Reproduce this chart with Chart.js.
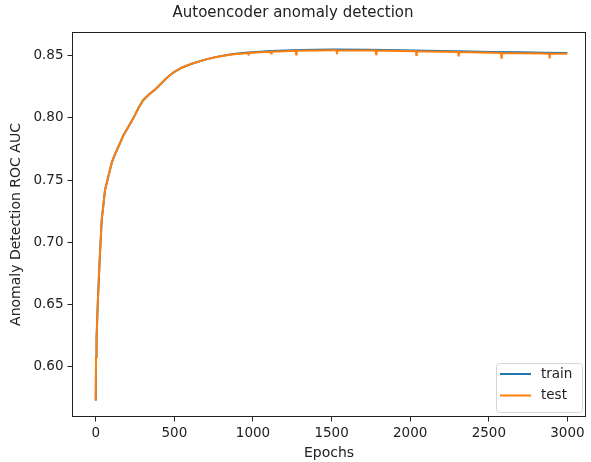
<!DOCTYPE html>
<html>
<head>
<meta charset="utf-8">
<title>Autoencoder anomaly detection</title>
<script src="https://cdn.jsdelivr.net/npm/chart.js@4.4.1/dist/chart.umd.min.js"></script>
<style>
  body { margin: 0; background: #fff; }
  canvas { display: block; }
</style>
</head>
<body>
<canvas id="aucChart" width="591" height="462"></canvas>
<script>
// ROC AUC per epoch, read at a handful of epochs
const trainEpochs = [0, 2, 5, 13, 20, 27, 38, 59, 80, 102, 120, 144, 176, 208, 240, 271, 300, 314, 345, 378, 410, 441, 473, 505, 550, 611, 696, 760, 834, 876, 950, 1046, 1088, 1200, 1300, 1400, 1512, 1725, 1937, 2100, 2300, 2511, 2700, 2850, 2999];
const trainAuc = [0.5728, 0.608, 0.622, 0.651, 0.672, 0.691, 0.718, 0.742, 0.7528, 0.764, 0.770, 0.7768, 0.786, 0.7929, 0.800, 0.8077, 0.8140, 0.8158, 0.8195, 0.8228, 0.8268, 0.8308, 0.8345, 0.8374, 0.8405, 0.8435, 0.8468, 0.8488, 0.8505, 0.8514, 0.8524, 0.8532, 0.8535, 0.8541, 0.8546, 0.8548, 0.8549, 0.8548, 0.8543, 0.8539, 0.8535, 0.853, 0.8527, 0.8524, 0.8522];

// test curve has single-epoch drops later in training
const testEpochs = [0, 2, 5, 13, 20, 27, 38, 59, 80, 102, 120, 144, 176, 208, 240, 271, 300, 314, 345, 378, 410, 441, 473, 505, 550, 611, 696, 760, 834, 876, 950, 968, 971, 974, 1046, 1088, 1113, 1116, 1119, 1200, 1272, 1275, 1278, 1400, 1512, 1531, 1534, 1537, 1725, 1780, 1783, 1786, 1937, 2036, 2039, 2042, 2100, 2300, 2305, 2308, 2311, 2511, 2577, 2580, 2583, 2700, 2850, 2884, 2887, 2890, 2999];
const testAuc = [0.5728, 0.608, 0.622, 0.651, 0.672, 0.691, 0.718, 0.742, 0.7528, 0.764, 0.770, 0.7768, 0.786, 0.7929, 0.800, 0.8077, 0.8140, 0.8158, 0.8195, 0.8228, 0.8268, 0.8308, 0.8345, 0.8374, 0.8405, 0.8435, 0.8468, 0.8487, 0.8503, 0.8511, 0.8520, 0.8521, 0.8510, 0.8521, 0.8527, 0.8530, 0.8531, 0.8517, 0.8531, 0.8535, 0.8539, 0.8510, 0.8539, 0.8542, 0.8543, 0.8543, 0.8513, 0.8543, 0.8542, 0.8541, 0.8511, 0.8541, 0.8537, 0.8535, 0.8505, 0.8535, 0.8533, 0.8529, 0.8529, 0.8495, 0.8529, 0.8524, 0.8522, 0.8484, 0.8522, 0.8520, 0.8517, 0.8516, 0.8478, 0.8516, 0.8515];

const xTicks = [0, 500, 1000, 1500, 2000, 2500, 3000];
const yTicks = [0.60, 0.65, 0.70, 0.75, 0.80, 0.85];

const FONT = "'DejaVu Sans', sans-serif";
const INK = '#222';

// axes box plus a framed legend in the lower right corner
const boxAndLegend = {
  id: 'boxAndLegend',
  afterDraw(chart) {
    const { ctx, chartArea: a } = chart;
    ctx.save();
    ctx.strokeStyle = INK;
    ctx.lineWidth = 1;
    ctx.strokeRect(a.left + 0.5, a.top + 0.5, a.right - a.left - 1, a.bottom - a.top - 1);

    const w = 86, h = 49;
    const x = a.right - 4 - w, y = a.bottom - 5 - h;
    ctx.beginPath();
    ctx.roundRect(x + 0.5, y + 0.5, w, h, 3);
    ctx.fillStyle = 'rgba(255,255,255,0.8)';
    ctx.fill();
    ctx.strokeStyle = '#d6d6d6';
    ctx.stroke();

    ctx.font = '13.5px ' + FONT;
    ctx.textBaseline = 'middle';
    chart.data.datasets.forEach((ds, i) => {
      const ry = y + 11 + i * 21.5;
      ctx.beginPath();
      ctx.moveTo(x + 4, ry);
      ctx.lineTo(x + 35, ry);
      ctx.strokeStyle = ds.borderColor;
      ctx.lineWidth = 2;
      ctx.stroke();
      ctx.fillStyle = INK;
      ctx.fillText(ds.label, x + 45, ry);
    });
    ctx.restore();
  }
};

const ctx = document.getElementById('aucChart').getContext('2d');
new Chart(ctx, {
  type: 'line',
  data: {
    datasets: [
      // order 1 so the test line is painted over it
      { label: 'train', order: 1, data: trainEpochs.map((e, i) => ({ x: e, y: trainAuc[i] })), borderColor: '#1f77b4', borderWidth: 2, pointRadius: 0, fill: false },
      { label: 'test', order: 0, data: testEpochs.map((e, i) => ({ x: e, y: testAuc[i] })), borderColor: '#ff7f0e', borderWidth: 2, pointRadius: 0, fill: false }
    ]
  },
  options: {
    responsive: false,
    animation: false,
    devicePixelRatio: 1,
    layout: { padding: { left: 0, right: 5, top: 0, bottom: 0 } },
    plugins: {
      legend: { display: false },
      tooltip: { enabled: false },
      title: {
        display: true,
        text: 'Autoencoder anomaly detection',
        color: INK,
        font: { family: FONT, size: 15, weight: 'normal' },
        padding: { top: 4, bottom: 10 }
      }
    },
    scales: {
      x: {
        type: 'linear',
        min: -151,
        max: 3118,
        afterBuildTicks: axis => { axis.ticks = xTicks.map(v => ({ value: v })); },
        afterFit: axis => { axis.height = 45; },
        grid: { drawOnChartArea: false, drawTicks: true, tickLength: 4.5, color: INK },
        border: { display: false },
        ticks: { color: INK, font: { family: FONT, size: 13.5 }, padding: 4, maxRotation: 0, autoSkip: false, callback: v => String(v) },
        title: { display: true, text: 'Epochs', color: INK, font: { family: FONT, size: 14 }, padding: { top: 0, bottom: 0.6 } }
      },
      y: {
        min: 0.5596,
        max: 0.8690,
        afterBuildTicks: axis => { axis.ticks = yTicks.map(v => ({ value: v })); },
        afterFit: axis => { axis.width = 72; },
        grid: { drawOnChartArea: false, drawTicks: true, tickLength: 4.5, color: INK },
        border: { display: false },
        ticks: { color: INK, font: { family: FONT, size: 13.5 }, padding: 4, callback: v => v.toFixed(2) },
        title: { display: true, text: 'Anomaly Detection ROC AUC', color: INK, font: { family: FONT, size: 14 }, padding: { top: 7.5, bottom: 0 } }
      }
    }
  },
  plugins: [boxAndLegend]
});
</script>
</body>
</html>
